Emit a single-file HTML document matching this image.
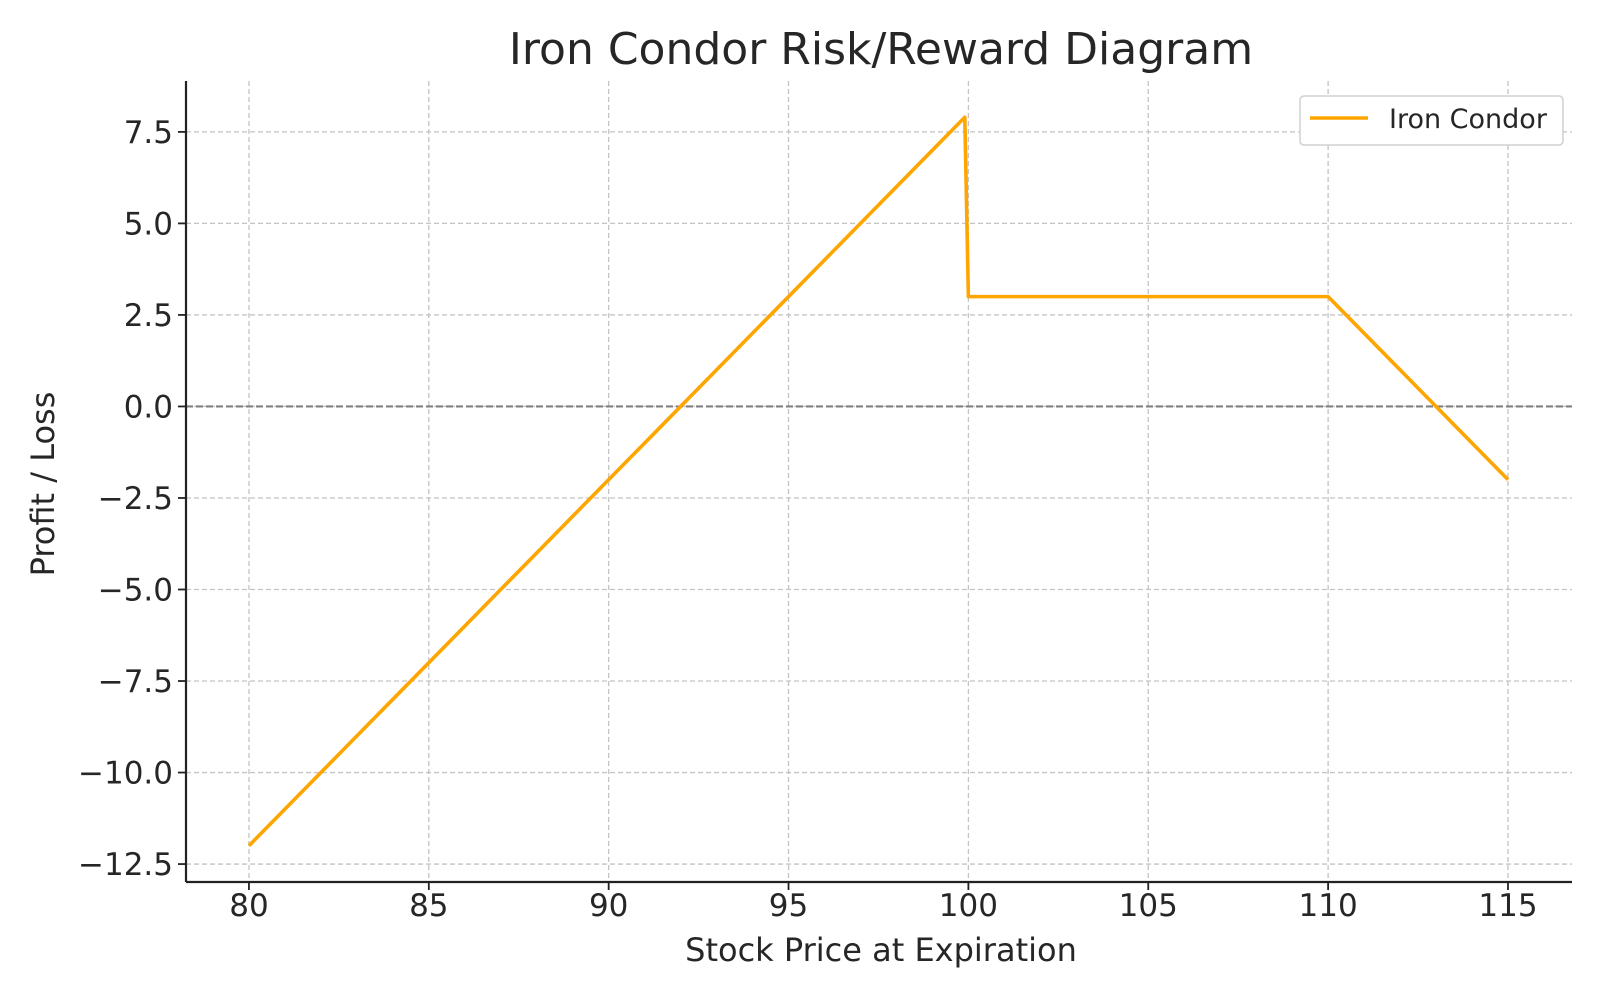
<!DOCTYPE html>
<html><head><meta charset="utf-8"><style>
body{margin:0;background:#fff;}
svg text{font-family:"DejaVu Sans","Liberation Sans",sans-serif;fill:#262626;}
</style></head><body>
<svg id="chart" width="1600" height="1000" viewBox="0 0 1600 1000" xmlns="http://www.w3.org/2000/svg">
<rect width="1600" height="1000" fill="#fff"/>
<g id="grid"></g>
<g id="zero"></g>
<g id="series"></g>
<g id="axes"></g>
<text x="881" y="64" font-size="44" text-anchor="middle" fill="#333">Iron Condor Risk/Reward Diagram</text>
<text x="881" y="961" font-size="32" text-anchor="middle">Stock Price at Expiration</text>
<text x="0" y="0" font-size="32" text-anchor="middle" transform="translate(54,484) rotate(-90)">Profit / Loss</text>
<g>
<rect x="1300" y="96" width="263" height="49" rx="4" fill="#fff" stroke="#d0d0d0" stroke-width="1.5"/>
<line x1="1310" y1="118" x2="1368" y2="118" stroke="#FFA500" stroke-width="3.6"/>
<text x="1389" y="128" font-size="27" fill="#333">Iron Condor</text>
</g>
</svg>
<script>
const xPoints = [80, 99.9, 100, 110, 115];
const pnlValues = [-12, 7.9, 3, 3, -2];
const xTicks = [80, 85, 90, 95, 100, 105, 110, 115];
const yTicks = [-12.5, -10, -7.5, -5, -2.5, 0, 2.5, 5, 7.5];
const yTickLabels = ["\u221212.5","\u221210.0","\u22127.5","\u22125.0","\u22122.5","0.0","2.5","5.0","7.5"];

const L=186,R=1572,T=81,B=882;
const X0=78.25,X1=116.78,Y0=-12.99,Y1=8.89;
const sx=v=>L+(v-X0)/(X1-X0)*(R-L);
const sy=v=>B-(v-Y0)/(Y1-Y0)*(B-T);
const NS="http://www.w3.org/2000/svg";
function mk(tag,attrs,parent){const e=document.createElementNS(NS,tag);for(const k in attrs)e.setAttribute(k,attrs[k]);parent.appendChild(e);return e;}
const grid=document.getElementById('grid'),axes=document.getElementById('axes');
xTicks.forEach(t=>{
  const g=mk('line',{x1:sx(t),x2:sx(t),y1:T,y2:B,stroke:'#c4c4c4','stroke-width':1.3,'stroke-dasharray':'5,3'},grid);
  
  
  const tk=mk('line',{x1:sx(t),x2:sx(t),y1:B,y2:B+8,stroke:'#222','stroke-width':1.8},axes);
  
  
  const tx=mk('text',{x:sx(t),y:B+34,'font-size':31,'text-anchor':'middle'},axes);
  tx.textContent=t;
  
  
});
yTicks.forEach((t,i)=>{
  const g=mk('line',{x1:L,x2:R,y1:sy(t),y2:sy(t),stroke:'#c4c4c4','stroke-width':1.3,'stroke-dasharray':'5,3'},grid);
  
  
  const tk=mk('line',{x1:L-8,x2:L,y1:sy(t),y2:sy(t),stroke:'#222','stroke-width':1.8},axes);
  
  
  const tx=mk('text',{x:L-13,y:sy(t)+11,'font-size':31,'text-anchor':'end'},axes);
  tx.textContent=yTickLabels[i];
  
  
});
const z=mk('line',{x1:L,x2:R,y1:sy(0),y2:sy(0),stroke:'#808080','stroke-width':2.2,'stroke-dasharray':'7,3'},document.getElementById('zero'));


const p=mk('polyline',{points:xPoints.map((x,i)=>sx(x)+','+sy(pnlValues[i])).join(' '),fill:'none',stroke:'#FFA500','stroke-width':3.6,'stroke-linejoin':'round'},document.getElementById('series'));


const la=mk('line',{x1:L,x2:L,y1:T,y2:B,stroke:'#222','stroke-width':2.2},axes);


const ba=mk('line',{x1:L,x2:R,y1:B,y2:B,stroke:'#222','stroke-width':2.2},axes);


</script>
</body></html>
